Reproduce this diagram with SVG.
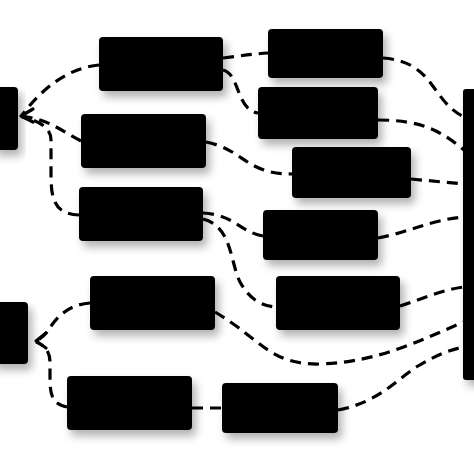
<svg xmlns="http://www.w3.org/2000/svg" width="474" height="474" viewBox="0 0 474 474">
<defs>
<filter id="sh" x="-20%" y="-20%" width="150%" height="160%">
<feDropShadow dx="4" dy="6" stdDeviation="4" flood-color="#000" flood-opacity="0.3"/>
</filter>
<style>
.n{fill:#000;filter:url(#sh)}
.c{fill:none;stroke:#000;stroke-width:3.2;stroke-dasharray:11 7}
.a{fill:none;stroke:#000;stroke-width:3.2;stroke-linecap:round;stroke-linejoin:round}
</style>
</defs>
<rect width="474" height="474" fill="#fff"/>
<g id="connectors">
<path class="c" d="M99,65 C70,68 45,85 22,115"/>
<path class="c" d="M81,141 C60,130 50,120 22,116"/>
<path class="c" d="M79,215 C55,214 51,200 51,175 L51,140 C51,128 40,121 22,117"/>
<path class="c" d="M223,58 C240,56 252,54 268,53"/>
<path class="c" d="M223,70 C240,74 236,110 258,113"/>
<path class="c" d="M383,58 C435,62 430,100 464,117"/>
<path class="c" d="M378,120 C420,120 440,130 464,150"/>
<path class="c" d="M206,142 C245,150 245,174 292,174"/>
<path class="c" d="M411,179 L464,184"/>
<path class="c" d="M203,213 C235,215 240,232 263,236"/>
<path class="c" d="M378,238 C410,232 430,220 464,217"/>
<path class="c" d="M203,219 C232,226 230,262 240,282 C250,300 262,306 276,307"/>
<path class="c" d="M400,306 C420,300 440,290 464,287"/>
<path class="c" d="M215,312 C262,340 270,365 320,364 C380,362 420,340 464,322"/>
<path class="c" d="M338,410 C380,402 398,378 418,366 C435,356 448,350 464,347"/>
<path class="c" d="M192,408 L222,408"/>
<path class="c" d="M90,303 C65,305 55,320 47,332 C43,337 40,339 36,341"/>
<path class="c" d="M67,407 C52,404 50,395 50,378 L50,362 C50,352 45,345 36,342"/>
<path class="a" d="M33,109 L21,116 L33,122"/>
<path class="a" d="M46,333 L36,341 L46,348"/>
</g>
<g id="left1"><rect class="n" x="-8" y="87" width="26" height="63" rx="4"/></g>
<g id="left2"><rect class="n" x="-8" y="302" width="36" height="62" rx="4"/></g>
<g id="boxA"><rect class="n" x="99" y="37" width="124" height="54" rx="4"/></g>
<g id="boxB"><rect class="n" x="81" y="114" width="125" height="54" rx="4"/></g>
<g id="boxC"><rect class="n" x="79" y="187" width="124" height="54" rx="4"/></g>
<g id="boxD"><rect class="n" x="268" y="29" width="115" height="49" rx="4"/></g>
<g id="boxE"><rect class="n" x="258" y="87" width="120" height="52" rx="4"/></g>
<g id="boxF"><rect class="n" x="292" y="147" width="119" height="51" rx="4"/></g>
<g id="boxG"><rect class="n" x="263" y="210" width="115" height="50" rx="4"/></g>
<g id="boxH"><rect class="n" x="90" y="276" width="125" height="54" rx="4"/></g>
<g id="boxK"><rect class="n" x="276" y="276" width="124" height="54" rx="4"/></g>
<g id="boxI"><rect class="n" x="67" y="376" width="125" height="54" rx="4"/></g>
<g id="boxJ"><rect class="n" x="222" y="383" width="116" height="50" rx="4"/></g>
<g id="bar"><rect class="n" x="463" y="89" width="20" height="291" rx="3"/></g>
</svg>
